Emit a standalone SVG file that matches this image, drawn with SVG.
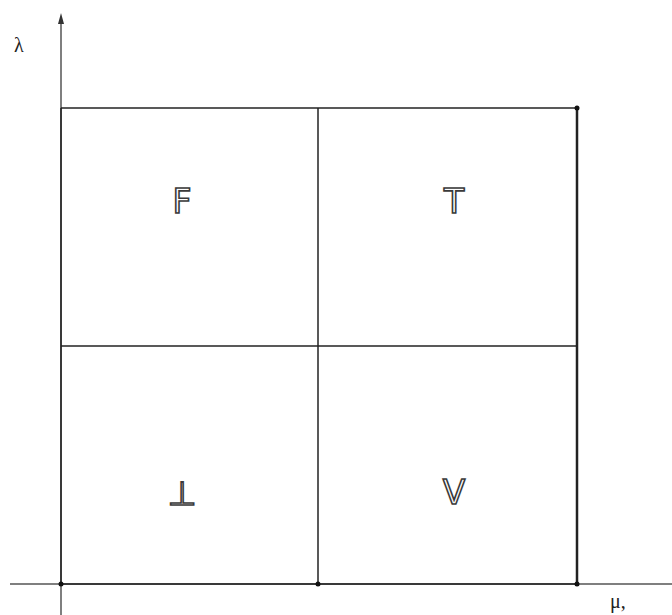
<svg xmlns="http://www.w3.org/2000/svg" width="672" height="615" viewBox="0 0 672 615">
<defs>
<style>
.ax{stroke:#555;stroke-width:1.5;fill:none}
.gl{stroke:#222;stroke-width:1.5;fill:none}
.lt{font-family:"DejaVu Sans",sans-serif;font-size:33px;fill:#fff;stroke:#3a3a3a;stroke-width:1.6;text-anchor:middle}
.lb{font-family:"Liberation Serif",serif;font-size:20px;fill:#222}
</style>
</defs>
<rect width="672" height="615" fill="#fff"/>
<g id="connectors">
<line class="ax" x1="61" y1="615" x2="61" y2="20"/>
<path d="M61,13 L58,24 L64,24 Z" fill="#333"/>
<line class="ax" x1="10" y1="584" x2="672" y2="584"/>
<line class="gl" x1="61" y1="108" x2="577" y2="108"/>
<line class="gl" x1="61" y1="346" x2="577" y2="346"/>
<line class="gl" x1="318" y1="108" x2="318" y2="584"/>
<line class="gl" x1="577" y1="108" x2="577" y2="584" style="stroke-width:2.5"/>
<line class="gl" x1="61" y1="108" x2="61" y2="584"/>
<line class="gl" x1="61" y1="584" x2="577" y2="584"/>
<circle cx="577" cy="108" r="2.5" fill="#111"/>
<circle cx="61" cy="584" r="2.5" fill="#111"/>
<circle cx="318" cy="584" r="2.5" fill="#111"/>
<circle cx="577" cy="584" r="2.5" fill="#111"/>
</g>
<g id="axis-labels">
<text class="lb" x="14" y="52">λ</text>
<text class="lb" x="610" y="608">μ,</text>
</g>
<g id="cell-F"><text class="lt" x="182" y="213">F</text></g>
<g id="cell-T"><text class="lt" x="454" y="213">T</text></g>
<g id="cell-bot"><text class="lt" x="182" y="505">⊥</text></g>
<g id="cell-V"><text class="lt" x="454" y="504">V</text></g>
</svg>
